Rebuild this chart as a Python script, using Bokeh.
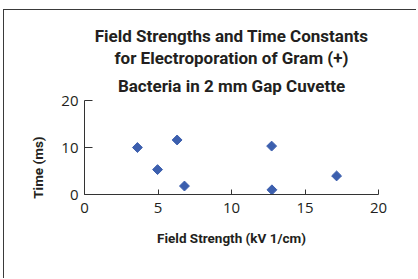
import numpy as np
from bokeh.plotting import figure
from bokeh.models import Range1d, FixedTicker, Title
from bokeh.embed import file_html
from bokeh.resources import INLINE

# Data
field_strength = [3.6, 4.97, 6.3, 6.8, 12.73, 12.75, 17.15]
time_ms = [10.0, 5.3, 11.6, 1.8, 10.3, 1.0, 3.95]
x_ticks = [0, 5, 10, 15, 20]
y_ticks = [0, 10, 20]

title_lines = ["Field Strengths and Time Constants",
               "for Electroporation of Gram (+)",
               "Bacteria in 2 mm Gap Cuvette"]

COND = "Roboto"
AX = "#333333"
TXT = "#231f20"
NB = "\u00a0"

p = figure(width=413, height=269, output_backend="svg", toolbar_location=None,
           x_range=Range1d(0, 20), y_range=Range1d(0, 20),
           min_border_left=80, min_border_right=39, min_border_top=90, min_border_bottom=85,
           margin=(9, 0, 0, 3),
           styles={"border-left": "1.5px solid #3a3a3a", "border-top": "1.5px solid #3a3a3a"})

xa = p.below[0]
ya = p.left[0]

p.title.text = ""
p.title.visible = False
standoffs = [10, 1, 0]   # line 3 (nearest frame), line 2, line 1
for line, so in zip(reversed(title_lines), standoffs):
    t = Title(text=line, align="center", text_font=COND, text_font_size="17px",
              text_font_style="bold", text_color=TXT, standoff=so, offset=0)
    p.add_layout(t, "above")

p.outline_line_color = None
p.grid.visible = False
p.background_fill_color = "white"
p.border_fill_color = "white"

for ax in (xa, ya):
    ax.axis_line_color = AX
    ax.major_tick_line_color = AX
    ax.minor_tick_line_color = None
    ax.major_label_text_font = "Open Sans"
    ax.major_label_text_font_size = "15px"
    ax.major_label_text_color = TXT
    ax.major_tick_out = 0
    ax.axis_label_text_font = COND
    ax.axis_label_text_font_style = "bold"
    ax.axis_label_text_font_size = "13.5px"
    ax.axis_label_text_color = TXT

xa.ticker = FixedTicker(ticks=x_ticks)
ya.ticker = FixedTicker(ticks=y_ticks)
xa.major_tick_in = 5
ya.major_tick_in = 8
xa.major_label_standoff = 8
ya.major_label_standoff = 6

xa.axis_label = "Field Strength (kV 1/cm)"
xa.axis_label_standoff = 14
ya.axis_label = "Time (ms)" + NB * 12
ya.axis_label_standoff = 12

p.scatter(field_strength, time_ms, marker="square", angle=np.pi / 4, size=7,
          fill_color="#3c5fae", line_color="#3c5fae")

open("out.html", "w").write(file_html(p, INLINE))
